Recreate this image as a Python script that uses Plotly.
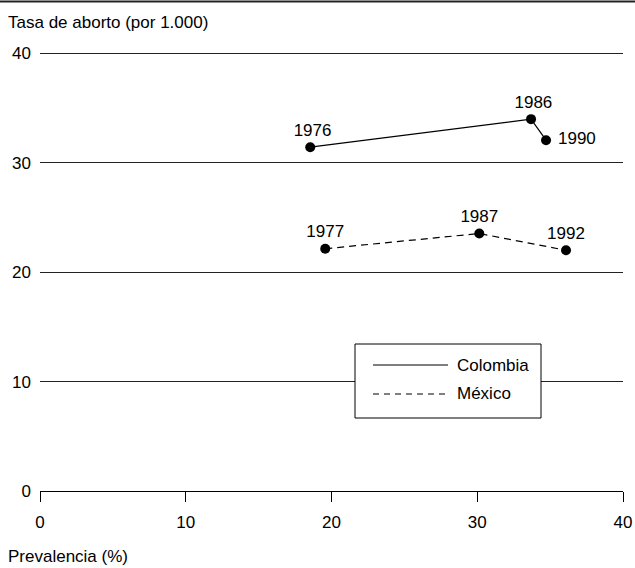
import plotly.graph_objects as go

# Data
col_x = [18.54, 33.69, 34.72]
col_y = [31.42, 33.98, 32.06]
col_years = ["1976", "1986", "1990"]
mex_x = [19.57, 30.14, 36.09]
mex_y = [22.14, 23.53, 22.00]
mex_years = ["1977", "1987", "1992"]
x_ticks = [0, 10, 20, 30, 40]
y_ticks = [0, 10, 20, 30, 40]

FONT = "Liberation Sans, Arial, Helvetica, sans-serif"
FS = 17
W, H = 635, 568
ML, MR, MT, MB = 40, 12, 50, 77
PW, PH = W - ML - MR, H - MT - MB

fig = go.Figure()
fig.add_trace(go.Scatter(
    x=col_x, y=col_y, mode="lines+markers+text", name="Colombia",
    text=col_years, texttemplate=" %{text}",
    textposition=["top center", "top center", "middle right"],
    textfont=dict(family=FONT, size=FS, color="black"),
    line=dict(color="black", width=1.2),
    marker=dict(color="black", size=10), cliponaxis=False, showlegend=False))
fig.add_trace(go.Scatter(
    x=mex_x, y=mex_y, mode="lines+markers+text", name="México",
    text=mex_years, textposition="top center",
    textfont=dict(family=FONT, size=FS, color="black"),
    line=dict(color="black", width=1.2, dash="7px,5px"),
    marker=dict(color="black", size=10), cliponaxis=False, showlegend=False))

def px_x(p):
    return (p - ML) / PW

def px_y(p):
    return (H - MB - p) / PH

shapes = [
    # top rule
    dict(type="line", xref="paper", yref="paper", x0=px_x(0), x1=px_x(W),
         y0=px_y(1.5), y1=px_y(1.5), line=dict(color="#222", width=2)),
    # legend box
    dict(type="rect", xref="paper", yref="paper", x0=px_x(355), x1=px_x(541),
         y0=px_y(418), y1=px_y(344), fillcolor="white",
         line=dict(color="black", width=1), layer="above"),
    dict(type="line", xref="paper", yref="paper", x0=px_x(373), x1=px_x(448),
         y0=px_y(365), y1=px_y(365), line=dict(color="black", width=1.2), layer="above"),
    dict(type="line", xref="paper", yref="paper", x0=px_x(373), x1=px_x(448),
         y0=px_y(394), y1=px_y(394), line=dict(color="black", width=1.2, dash="6px,5px"),
         layer="above"),
]

annotations = [
    dict(text="Tasa de aborto (por 1.000)", xref="paper", yref="paper",
         x=px_x(6), y=px_y(22), xanchor="left", yanchor="middle", showarrow=False,
         font=dict(family=FONT, size=FS, color="black")),
    dict(text="Prevalencia (%)", xref="paper", yref="paper",
         x=px_x(6), y=px_y(556), xanchor="left", yanchor="middle", showarrow=False,
         font=dict(family=FONT, size=FS, color="black")),
    dict(text="Colombia", xref="paper", yref="paper",
         x=px_x(455), y=px_y(365), xanchor="left", yanchor="middle", showarrow=False,
         font=dict(family=FONT, size=FS, color="black")),
    dict(text="México", xref="paper", yref="paper",
         x=px_x(455), y=px_y(393), xanchor="left", yanchor="middle", showarrow=False,
         font=dict(family=FONT, size=FS, color="black")),
]

fig.update_layout(
    width=W, height=H, margin=dict(l=ML, r=MR, t=MT, b=MB, autoexpand=False),
    paper_bgcolor="white", plot_bgcolor="white",
    font=dict(family=FONT, size=FS, color="black"),
    shapes=shapes, annotations=annotations, showlegend=False,
    xaxis=dict(range=[0, 40], tickvals=x_ticks, showgrid=False, zeroline=False,
               showline=True, linecolor="black", linewidth=1, automargin=False,
               ticks="outside", ticklen=10, tickcolor="black", tickwidth=1,
               ticklabelstandoff=6, tickfont=dict(family=FONT, size=FS, color="black")),
    yaxis=dict(range=[0, 40.3], tickvals=y_ticks, showgrid=True, gridcolor="#222",
               gridwidth=1, zeroline=False, showline=False, ticks="", automargin=False,
               ticklabelstandoff=8, tickfont=dict(family=FONT, size=FS, color="black")),
)

fig.write_html("out.html", config={"displayModeBar": False},
               post_script="document.body.style.margin='0';document.body.style.overflow='hidden';")
